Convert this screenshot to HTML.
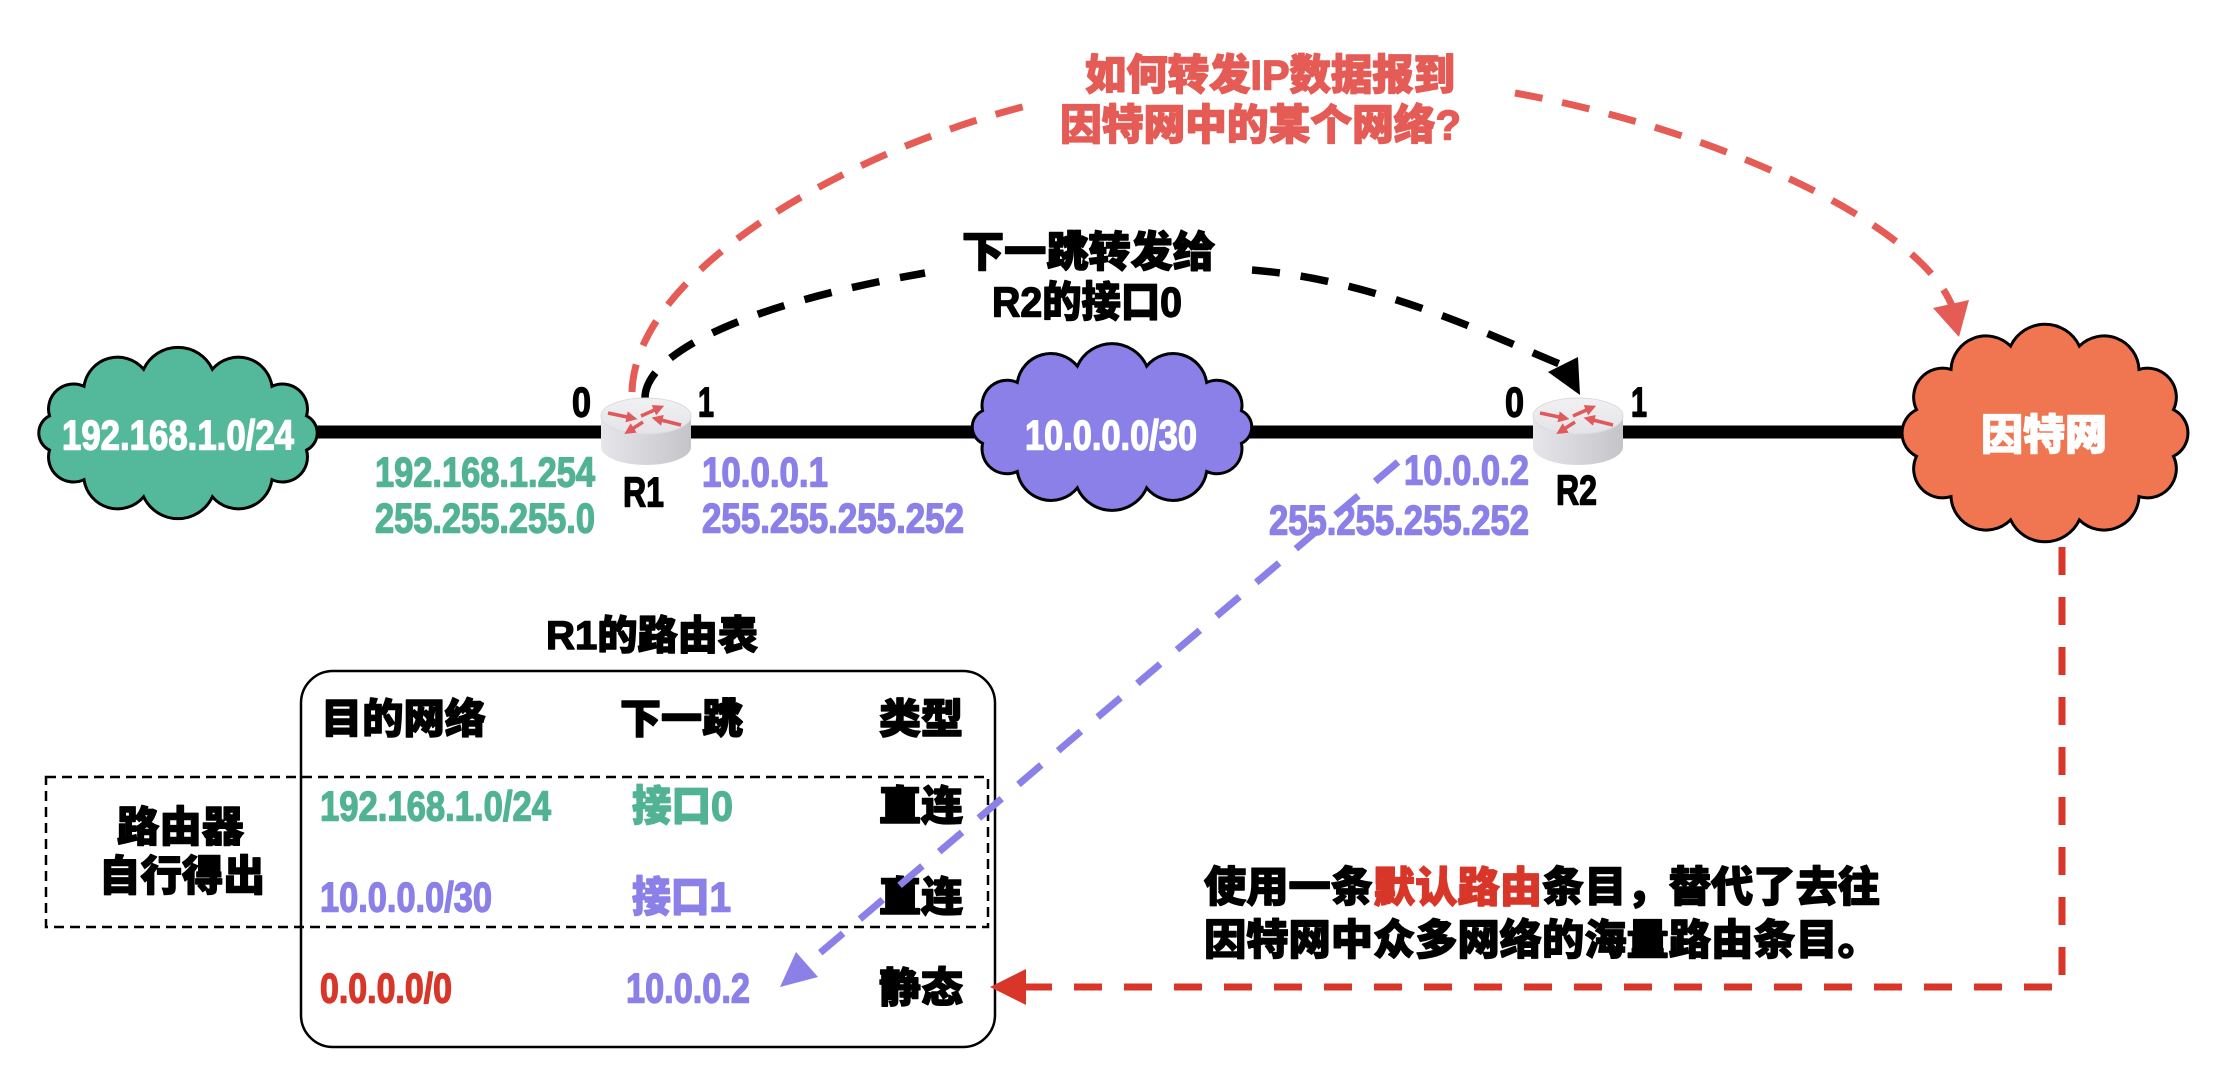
<!DOCTYPE html>
<html><head><meta charset="utf-8"><style>
html,body{margin:0;padding:0;background:#fff;}
svg{display:block;}
text{font-family:"Liberation Sans","Noto Sans CJK SC","WenQuanYi Zen Hei",sans-serif;font-weight:900;dominant-baseline:central;stroke-width:1.4px;stroke-linejoin:round;}
</style></head><body>
<svg width="2234" height="1090" viewBox="0 0 2234 1090" xmlns="http://www.w3.org/2000/svg">
<defs>
<linearGradient id="side" x1="0" y1="0" x2="1" y2="0">
<stop offset="0" stop-color="#e6e6ea"/><stop offset="0.5" stop-color="#d6d6da"/><stop offset="1" stop-color="#c4c4c9"/>
</linearGradient>
<linearGradient id="top" x1="0" y1="0" x2="0" y2="1">
<stop offset="0" stop-color="#f1f1f4"/><stop offset="1" stop-color="#e4e4e8"/>
</linearGradient>
<marker id="ra" viewBox="0 0 10 10" refX="5" refY="5" markerWidth="3.2" markerHeight="3.2" orient="auto"><path d="M0,0 L10,5 L0,10 Z" fill="#e05a5c"/></marker>
</defs>

<line x1="315" y1="432" x2="1910" y2="432" stroke="#000" stroke-width="13"/>

<path d="M306.5,450.1 A25,25 0 0 1 272,479.7 A34,34 0 0 1 212.4,496.8 A38,38 0 0 1 143.6,496.8 A34,34 0 0 1 84,479.7 A25,25 0 0 1 49.5,450.1 A19,19 0 0 1 49.5,415.9 A25,25 0 0 1 84,386.3 A34,34 0 0 1 143.6,369.2 A38,38 0 0 1 212.4,369.2 A34,34 0 0 1 272,386.3 A25,25 0 0 1 306.5,415.9 A19,19 0 0 1 306.5,450.1 Z" fill="#54b89b" stroke="#000" stroke-width="3"/>
<path d="M1241.4,443.3 A25,25 0 0 1 1206.7,471.5 A34,34 0 0 1 1146.7,487.9 A38,38 0 0 1 1077.3,487.9 A34,34 0 0 1 1017.3,471.5 A25,25 0 0 1 982.6,443.3 A18,18 0 0 1 982.6,410.7 A25,25 0 0 1 1017.3,382.5 A34,34 0 0 1 1077.3,366.1 A38,38 0 0 1 1146.7,366.1 A34,34 0 0 1 1206.7,382.5 A25,25 0 0 1 1241.4,410.7 A18,18 0 0 1 1241.4,443.3 Z" fill="#8a80e8" stroke="#000" stroke-width="3"/>
<path d="M2173.5,456.3 A29,29 0 0 1 2139,496.6 A35,35 0 0 1 2079.4,519.9 A38,38 0 0 1 2010.6,519.9 A35,35 0 0 1 1951,496.6 A29,29 0 0 1 1916.5,456.3 A26,26 0 0 1 1916.5,409.7 A29,29 0 0 1 1951,369.4 A35,35 0 0 1 2010.6,346.1 A38,38 0 0 1 2079.4,346.1 A35,35 0 0 1 2139,369.4 A29,29 0 0 1 2173.5,409.7 A26,26 0 0 1 2173.5,456.3 Z" fill="#ef7650" stroke="#000" stroke-width="3"/>

<text x="62" y="435" font-size="42" fill="#fff" stroke="#fff" textLength="232" lengthAdjust="spacingAndGlyphs">192.168.1.0/24</text>
<text x="1025" y="435" font-size="42" fill="#fff" stroke="#fff" textLength="172" lengthAdjust="spacingAndGlyphs">10.0.0.0/30</text>
<text x="1981" y="435" font-size="42" fill="#fff" stroke="#fff" textLength="126" lengthAdjust="spacingAndGlyphs">因特网</text>

<path d="M632,392 C635,270 850,150 1030,105" fill="none" stroke="#e55b55" stroke-width="7" stroke-dasharray="28 20"/>
<path d="M1515,93 C1720,130 1920,225 1952,306" fill="none" stroke="#e55b55" stroke-width="7" stroke-dasharray="28 20"/>
<polygon points="1959,337 1933,308 1969,300" fill="#e55b55"/>

<path d="M645,398 C645,355 740,305 925,273" fill="none" stroke="#000" stroke-width="7.5" stroke-dasharray="28 21"/>
<path d="M1252,270 C1380,280 1500,340 1562,365" fill="none" stroke="#000" stroke-width="7.5" stroke-dasharray="28 21"/>
<polygon points="1580,395 1548,372 1578,357" fill="#000"/>

<g transform="translate(646,416)">
<path d="M-45,0 L-45,31 A45,18 0 0 0 45,31 L45,0 Z" fill="url(#side)"/>
<ellipse cx="0" cy="0" rx="45" ry="18" fill="url(#top)" stroke="#dcdce0" stroke-width="1"/>
<g stroke="#e05a5c" stroke-width="3.5" fill="none">
<line x1="-38" y1="-3" x2="-14" y2="2" marker-end="url(#ra)"/>
<line x1="-5" y1="0" x2="13" y2="-8" marker-end="url(#ra)"/>
<line x1="35" y1="9" x2="11" y2="3" marker-end="url(#ra)"/>
<line x1="-3" y1="6" x2="-17" y2="15" marker-end="url(#ra)"/>
</g>
</g>
<g transform="translate(1578,416)">
<path d="M-45,0 L-45,31 A45,18 0 0 0 45,31 L45,0 Z" fill="url(#side)"/>
<ellipse cx="0" cy="0" rx="45" ry="18" fill="url(#top)" stroke="#dcdce0" stroke-width="1"/>
<g stroke="#e05a5c" stroke-width="3.5" fill="none">
<line x1="-38" y1="-3" x2="-14" y2="2" marker-end="url(#ra)"/>
<line x1="-5" y1="0" x2="13" y2="-8" marker-end="url(#ra)"/>
<line x1="35" y1="9" x2="11" y2="3" marker-end="url(#ra)"/>
<line x1="-3" y1="6" x2="-17" y2="15" marker-end="url(#ra)"/>
</g>
</g>

<text x="572" y="402" font-size="42" fill="#000" stroke="#000" textLength="19" lengthAdjust="spacingAndGlyphs">0</text>
<text x="698" y="402" font-size="42" fill="#000" stroke="#000" textLength="16" lengthAdjust="spacingAndGlyphs">1</text>
<text x="623" y="492" font-size="42" fill="#000" stroke="#000" textLength="41" lengthAdjust="spacingAndGlyphs">R1</text>
<text x="1505" y="402" font-size="42" fill="#000" stroke="#000" textLength="19" lengthAdjust="spacingAndGlyphs">0</text>
<text x="1631" y="402" font-size="42" fill="#000" stroke="#000" textLength="16" lengthAdjust="spacingAndGlyphs">1</text>
<text x="1556" y="490" font-size="42" fill="#000" stroke="#000" textLength="41" lengthAdjust="spacingAndGlyphs">R2</text>

<text x="375" y="472" font-size="42" fill="#52b394" stroke="#52b394" textLength="220" lengthAdjust="spacingAndGlyphs">192.168.1.254</text>
<text x="375" y="518" font-size="42" fill="#52b394" stroke="#52b394" textLength="220" lengthAdjust="spacingAndGlyphs">255.255.255.0</text>
<text x="702" y="472" font-size="42" fill="#8b80e8" stroke="#8b80e8" textLength="126" lengthAdjust="spacingAndGlyphs">10.0.0.1</text>
<text x="702" y="518" font-size="42" fill="#8b80e8" stroke="#8b80e8" textLength="262" lengthAdjust="spacingAndGlyphs">255.255.255.252</text>
<text x="1404" y="470" font-size="42" fill="#8b80e8" stroke="#8b80e8" textLength="125" lengthAdjust="spacingAndGlyphs">10.0.0.2</text>
<text x="1269" y="520" font-size="42" fill="#8b80e8" stroke="#8b80e8" textLength="260" lengthAdjust="spacingAndGlyphs">255.255.255.252</text>

<text x="1085" y="75" font-size="42" fill="#e55b55" stroke="#e55b55" textLength="370" lengthAdjust="spacingAndGlyphs">如何转发IP数据报到</text>
<text x="1060" y="125" font-size="42" fill="#e55b55" stroke="#e55b55" textLength="401" lengthAdjust="spacingAndGlyphs">因特网中的某个网络?</text>
<text x="962" y="252" font-size="42" fill="#000" stroke="#000" textLength="253" lengthAdjust="spacingAndGlyphs">下一跳转发给</text>
<text x="992" y="302" font-size="42" fill="#000" stroke="#000" textLength="190" lengthAdjust="spacingAndGlyphs">R2的接口0</text>

<text x="546" y="636" font-size="40" fill="#000" stroke="#000" textLength="212" lengthAdjust="spacingAndGlyphs">R1的路由表</text>
<rect x="301" y="671" width="694" height="376" rx="32" ry="32" fill="none" stroke="#000" stroke-width="2.5"/>
<text x="321" y="719" font-size="41" fill="#000" stroke="#000" textLength="165" lengthAdjust="spacingAndGlyphs">目的网络</text>
<text x="620" y="719" font-size="41" fill="#000" stroke="#000" textLength="123" lengthAdjust="spacingAndGlyphs">下一跳</text>
<text x="879" y="719" font-size="41" fill="#000" stroke="#000" textLength="84" lengthAdjust="spacingAndGlyphs">类型</text>

<text x="320" y="806" font-size="42" fill="#52b394" stroke="#52b394" textLength="231" lengthAdjust="spacingAndGlyphs">192.168.1.0/24</text>
<text x="632" y="806" font-size="42" fill="#52b394" stroke="#52b394" textLength="101" lengthAdjust="spacingAndGlyphs">接口0</text>
<text x="879" y="806" font-size="41" fill="#000" stroke="#000" textLength="84" lengthAdjust="spacingAndGlyphs">直连</text>

<text x="320" y="897" font-size="42" fill="#8b80e8" stroke="#8b80e8" textLength="172" lengthAdjust="spacingAndGlyphs">10.0.0.0/30</text>
<text x="632" y="897" font-size="42" fill="#8b80e8" stroke="#8b80e8" textLength="99" lengthAdjust="spacingAndGlyphs">接口1</text>
<text x="879" y="897" font-size="41" fill="#000" stroke="#000" textLength="84" lengthAdjust="spacingAndGlyphs">直连</text>

<text x="320" y="988" font-size="42" fill="#d9362a" stroke="#d9362a" textLength="132" lengthAdjust="spacingAndGlyphs">0.0.0.0/0</text>
<text x="626" y="988" font-size="42" fill="#8b80e8" stroke="#8b80e8" textLength="124" lengthAdjust="spacingAndGlyphs">10.0.0.2</text>
<text x="879" y="988" font-size="41" fill="#000" stroke="#000" textLength="84" lengthAdjust="spacingAndGlyphs">静态</text>

<rect x="46" y="777" width="942" height="150" fill="none" stroke="#000" stroke-width="2.5" stroke-dasharray="10 6"/>
<text x="117" y="827" font-size="42" fill="#000" stroke="#000" textLength="127" lengthAdjust="spacingAndGlyphs">路由器</text>
<text x="99" y="876" font-size="42" fill="#000" stroke="#000" textLength="166" lengthAdjust="spacingAndGlyphs">自行得出</text>

<line x1="1398" y1="462" x2="807" y2="964" stroke="#8b80e8" stroke-width="7" stroke-dasharray="30 22"/>
<polygon points="780,987 796,952 818,977" fill="#8b80e8"/>

<path d="M2062,547 L2062,987 L1022,987" fill="none" stroke="#d9362a" stroke-width="7" stroke-dasharray="28 22"/>
<polygon points="990,987 1026,969 1026,1005" fill="#d9362a"/>

<text x="1204" y="887" font-size="42" fill="#000" stroke="#000" textLength="676" lengthAdjust="spacingAndGlyphs">使用一条<tspan fill="#d9362a" stroke="#d9362a">默认路由</tspan>条目，替代了去往</text>
<text x="1204" y="940" font-size="42" fill="#000" stroke="#000" textLength="676" lengthAdjust="spacingAndGlyphs">因特网中众多网络的海量路由条目。</text>
</svg>
</body></html>
